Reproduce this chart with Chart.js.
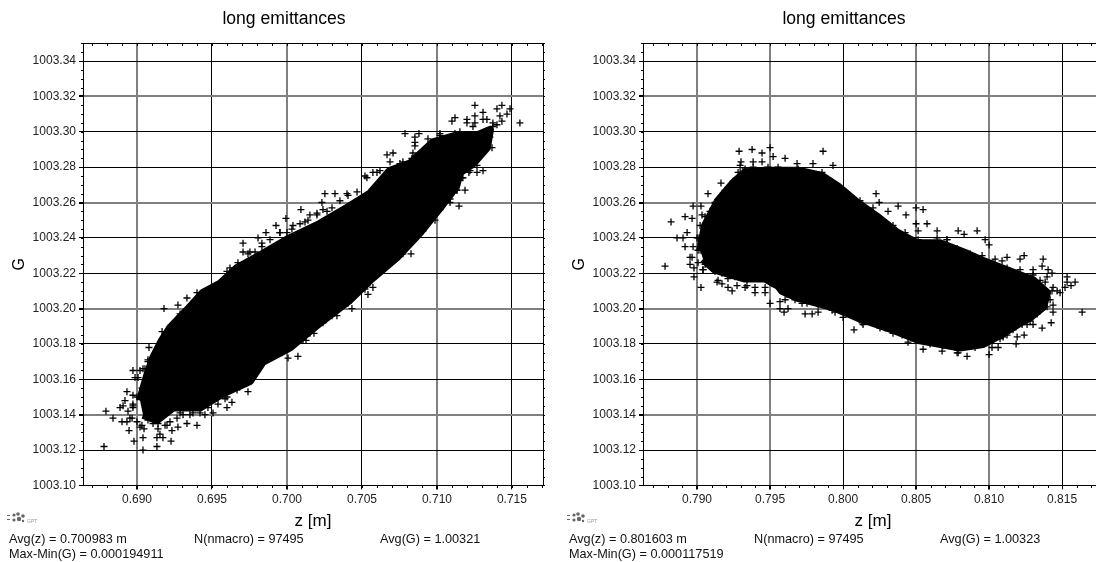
<!DOCTYPE html>
<html><head><meta charset="utf-8">
<script src="https://cdn.jsdelivr.net/npm/chart.js@4"></script>
<style>
html,body{margin:0;padding:0;background:#fff;overflow:hidden;width:1096px;height:562px}
canvas{position:absolute;top:0}
.t{position:absolute;font:12.7px "Liberation Sans",Arial,sans-serif;color:#111;white-space:nowrap;line-height:15px}
.logo{position:absolute;top:511px;width:40px;height:16px}
.logo span{position:absolute;left:21px;top:7px;font:5px "Liberation Sans",Arial,sans-serif;color:#999}
</style></head><body>
<canvas id="c1" width="568" height="562" style="left:0"></canvas>
<canvas id="c2" width="568" height="562" style="left:560px"></canvas>
<script>
const chartTitle='long emittances';
const xAxisTitle='z [m]';
const yAxisTitle='G';
const yTicks=[1003.10,1003.12,1003.14,1003.16,1003.18,1003.20,1003.22,1003.24,1003.26,1003.28,1003.30,1003.32,1003.34];
const leftXTicks=[0.690,0.695,0.700,0.705,0.710,0.715];
const rightXTicks=[0.790,0.795,0.800,0.805,0.810,0.815];

// dense core of each cloud: its outline
const leftCoreZ=[.69020,.69067,.69107,.69167,.69220,.69333,.69440,.69553,.69667,.69840,.70000,.70220,.70400,.70553,.70687,.70820,.70973,.71133,.71267,.71353,.71333,.71240,.71153,.71127,.71020,.70887,.70733,.70553,.70420,.70220,.70020,.69840,.69753,.69573,.69420,.69240,.69133,.69040];
const leftCoreG=[1003.148,1003.162,1003.172,1003.182,1003.189,1003.199,1003.209,1003.214,1003.223,1003.231,1003.239,1003.248,1003.257,1003.265,1003.278,1003.282,1003.294,1003.298,1003.298,1003.301,1003.291,1003.282,1003.277,1003.269,1003.257,1003.243,1003.229,1003.216,1003.205,1003.192,1003.178,1003.170,1003.159,1003.152,1003.144,1003.144,1003.137,1003.140];
const rightCoreZ=[.79021,.79055,.79144,.79247,.79329,.79466,.79692,.79856,.79966,.80096,.80233,.80370,.80507,.80664,.80849,.80959,.81144,.81301,.81397,.81370,.81281,.81212,.81096,.80959,.80801,.80527,.80342,.80096,.79925,.79692,.79582,.79555,.79466,.79329,.79240,.79123,.79041];
const rightCoreG=[1003.233,1003.247,1003.261,1003.271,1003.277,1003.278,1003.278,1003.275,1003.269,1003.260,1003.252,1003.243,1003.237,1003.237,1003.231,1003.227,1003.221,1003.216,1003.209,1003.201,1003.195,1003.192,1003.186,1003.180,1003.178,1003.182,1003.188,1003.195,1003.201,1003.206,1003.210,1003.213,1003.217,1003.217,1003.219,1003.222,1003.228];

// individual macro-particles read around the fringe
const leftZ=[.68793,.68840,.68780,.69040,.69133,.69227,.68980,.69040,.69133,.69173,.68947,.68900,.68933,.68920,.68887,.68973,.68973,.69047,.69033,.69153,.69273,.69333,.69400,.69233,.69200,.69507,.69453,.69600,.69633,.69600,.69740,.69080,.69167,.69273,.69180,.69333,.69400,.69073,.69040,.68987,.68973,.68967,.69087,.68933,.69140,.69353,.69287,
.69707,.69707,.69807,.69860,.69927,.69993,.70093,.70153,.70253,.70320,.70400,.70233,.70073,.70007,.70127,.70180,.70333,.70433,.70540,.70573,.70520,.69600,.69753,.69833,.69953,.70040,.70120,.70200,.70267,
.71553,.71253,.71433,.71487,.71400,.71467,.71433,.71100,.71120,.71253,.71307,.71200,.71373,.70787,.70880,.70853,.70853,.70853,.70707,.70667,.70940,.71187,.71147,.71307,.71267,.71213,.70827,.70833,.71087,.70987,.70573,.70520,.70620,.70773,.70840,.71020,.71153,.71353,.71420,.71333,.71240,.71267,.71367,.71253,.71173,.71133];
const leftG=[1003.142,1003.138,1003.122,1003.120,1003.122,1003.125,1003.125,1003.127,1003.127,1003.127,1003.131,1003.136,1003.153,1003.148,1003.144,1003.165,1003.151,1003.132,1003.134,1003.129,1003.133,1003.135,1003.134,1003.131,1003.134,1003.141,1003.140,1003.144,1003.147,1003.150,1003.153,1003.178,1003.187,1003.202,1003.200,1003.206,1003.209,1003.171,1003.166,1003.161,1003.145,1003.138,1003.138,1003.136,1003.135,1003.140,1003.141,
1003.237,1003.232,1003.240,1003.243,1003.247,1003.251,1003.256,1003.253,1003.265,1003.265,1003.265,1003.260,1003.173,1003.172,1003.182,1003.186,1003.196,1003.200,1003.208,1003.212,1003.211,1003.221,1003.232,1003.237,1003.243,1003.247,1003.249,1003.254,1003.255,
1003.305,1003.315,1003.315,1003.313,1003.313,1003.310,1003.306,1003.306,1003.308,1003.309,1003.311,1003.307,1003.305,1003.299,1003.299,1003.297,1003.294,1003.292,1003.288,1003.287,1003.296,1003.267,1003.258,1003.278,1003.277,1003.277,1003.231,1003.238,1003.260,1003.250,1003.277,1003.275,1003.278,1003.283,1003.288,1003.299,1003.300,1003.297,1003.309,1003.307,1003.303,1003.297,1003.291,1003.284,1003.274,1003.267];
const leftDenseZ=[.68907,.68940,.68973,.68953,.69000,.69020,.69073,.69107,.69140,.69187,.69220,.69267,.69307,.69373,.69420,.69473,.69540,.69587,.69667,.69707,.69007,.69020,.69053,.69033,.69000,.68973,.69073,.69133,.69187,.69220,.69253,.69287,.69353,.69400,.69453,
.69620,.69673,.69740,.69787,.69833,.69887,.69953,.70000,.70033,.70087,.70140,.70200,.70240,.70300,.70353,.70407,.70467,.69887,.69967,.70040,.70107,.70153,.70240,.70300,.70407,.70467,.70533,
.70533,.70600,.70687,.70753,.70833,.70887,.70940,.71020,.71120,.71200,.71253,.71307,.71373,.71400,.71340,.71307,.71253,.71267,.71220,.71167,.71133,.71087,.71020,.70967,.70907,.70840,.70773];
const leftDenseG=[1003.145,1003.142,1003.144,1003.138,1003.136,1003.133,1003.137,1003.135,1003.132,1003.134,1003.136,1003.138,1003.140,1003.141,1003.141,1003.144,1003.146,1003.149,1003.154,1003.157,1003.161,1003.165,1003.166,1003.155,1003.150,1003.146,1003.170,1003.175,1003.184,1003.189,1003.192,1003.197,1003.201,1003.205,1003.208,
1003.223,1003.226,1003.231,1003.232,1003.235,1003.239,1003.243,1003.243,1003.245,1003.248,1003.250,1003.253,1003.256,1003.257,1003.261,1003.264,1003.266,1003.174,1003.175,1003.179,1003.182,1003.186,1003.192,1003.196,1003.203,1003.209,1003.213,
1003.274,1003.277,1003.283,1003.282,1003.285,1003.288,1003.292,1003.298,1003.299,1003.305,1003.305,1003.307,1003.303,1003.304,1003.296,1003.291,1003.288,1003.281,1003.278,1003.274,1003.267,1003.262,1003.256,1003.251,1003.244,1003.238,1003.231];
const rightZ=[.79288,.79377,.79445,.79500,.79863,.79301,.79384,.79445,.79521,.79603,.79685,.79794,.79931,.79295,.79247,.79164,.79075,.79137,.78973,.79027,.78822,.78918,.78966,.79034,.78863,.78904,.78932,.78918,.79007,.78781,.78952,.78952,.78979,.79041,.78979,.79027,.79137,.79212,.79240,.79274,.79329,.79397,.79466,.79500,.79568,.79603,.79568,.79623,.79596,.79740,.79788,.79829,.79719,.79925,.79171,.79075,.79007,
.80226,.80247,.80377,.80500,.80548,.80308,.80431,.80500,.80575,.80644,.80788,.80514,.80000,.80075,.80137,.80342,.80445,.80548,.80678,.80781,.80596,.80253,.80712,
.80829,.80918,.81000,.80973,.81041,.81089,.81123,.81212,.81240,.81370,.81363,.81404,.81301,.81431,.81534,.81589,.81561,.81520,.81486,.81534,.81637,.81425,.81438,.81438,.81363,.81301,.81260,.81240,.81185,.81192,.81062,.81020,.81000,.80849,.80788,.80904,.81431,.81397,.81349,.81123,.81075];
const rightG=[1003.289,1003.290,1003.288,1003.291,1003.289,1003.283,1003.283,1003.283,1003.286,1003.285,1003.282,1003.282,1003.281,1003.277,1003.272,1003.271,1003.265,1003.260,1003.258,1003.258,1003.249,1003.252,1003.251,1003.253,1003.240,1003.240,1003.243,1003.235,1003.240,1003.224,1003.229,1003.225,1003.223,1003.222,1003.218,1003.212,1003.215,1003.212,1003.210,1003.213,1003.212,1003.209,1003.209,1003.203,1003.204,1003.205,1003.200,1003.200,1003.198,1003.197,1003.197,1003.198,1003.203,1003.199,1003.214,1003.229,1003.233,
1003.265,1003.260,1003.258,1003.257,1003.256,1003.255,1003.253,1003.248,1003.248,1003.244,1003.244,1003.244,1003.195,1003.188,1003.191,1003.186,1003.181,1003.177,1003.176,1003.175,1003.180,1003.189,1003.239,
1003.242,1003.244,1003.236,1003.239,1003.228,1003.227,1003.229,1003.228,1003.230,1003.228,1003.224,1003.222,1003.222,1003.220,1003.218,1003.215,1003.213,1003.212,1003.209,1003.215,1003.198,1003.192,1003.198,1003.202,1003.189,1003.191,1003.191,1003.185,1003.180,1003.184,1003.178,1003.178,1003.174,1003.173,1003.175,1003.178,1003.210,1003.218,1003.216,1003.185,1003.183];
const rightDenseZ=[.79295,.79329,.79384,.79431,.79486,.79555,.79623,.79692,.79760,.79856,.79897,.79281,.79240,.79192,.79158,.79123,.79089,.79055,.79021,.79000,.78973,.79021,.78966,.79007,.79055,.79041,.79123,.79171,.79144,.79212,.79260,.79315,.79342,.79397,.79466,.79514,.79582,.79616,.79671,.79753,.79829,.79897,
.80116,.80205,.80253,.80342,.80425,.80514,.80644,.80712,.80781,.79945,.80048,.80130,.80205,.80288,.80404,.80493,.80596,.80685,.80767,
.80870,.80952,.81027,.81123,.81212,.81301,.81384,.81438,.81466,.81418,.81397,.81329,.81281,.81226,.81164,.81096,.81027,.80959,.80870,.80781];
const rightDenseG=[1003.281,1003.279,1003.280,1003.278,1003.280,1003.280,1003.278,1003.279,1003.277,1003.277,1003.273,1003.277,1003.270,1003.267,1003.262,1003.260,1003.255,1003.252,1003.247,1003.240,1003.235,1003.233,1003.229,1003.226,1003.225,1003.222,1003.221,1003.220,1003.216,1003.217,1003.218,1003.217,1003.213,1003.212,1003.212,1003.214,1003.210,1003.208,1003.205,1003.203,1003.202,1003.201,
1003.261,1003.257,1003.251,1003.247,1003.243,1003.239,1003.240,1003.239,1003.234,1003.198,1003.197,1003.192,1003.192,1003.189,1003.185,1003.184,1003.181,1003.179,1003.178,
1003.231,1003.230,1003.226,1003.223,1003.222,1003.219,1003.215,1003.212,1003.210,1003.205,1003.201,1003.197,1003.193,1003.191,1003.188,1003.184,1003.182,1003.180,1003.179,1003.178];

const leftStats=['Avg(z) = 0.700983 m','N(nmacro) = 97495','Avg(G) = 1.00321','Max-Min(G) = 0.000194911'];
const rightStats=['Avg(z) = 0.801603 m','N(nmacro) = 97495','Avg(G) = 1.00323','Max-Min(G) = 0.000117519'];

const FONT='"Liberation Sans",Arial,sans-serif';
const zip=(a,b)=>a.map((v,i)=>({x:v,y:b[i]}));

const framePlugin={id:'frame',afterDraw(ch){
  const {left,right,top,bottom}=ch.chartArea,c=ch.ctx,X=ch.scales.x,Y=ch.scales.y;
  const L=Math.floor(left),R=Math.floor(right),T=Math.floor(top),B=Math.floor(bottom);
  c.save();c.strokeStyle='#000';c.lineWidth=1;
  c.strokeRect(L+.5,T+.5,R-L,B-T);
  c.beginPath();
  for(let i=Math.ceil(X.min/0.001);i*0.001<=X.max;i++){
    const p=Math.round(X.getPixelForValue(i*0.001))+.5;
    c.moveTo(p,T);c.lineTo(p,T+3);c.moveTo(p,B);c.lineTo(p,B+3);
  }
  for(let i=0;i<=50;i++){
    const p=Math.round(Y.getPixelForValue(Y.min+i*0.005))+.5;
    c.moveTo(L-2,p);c.lineTo(L,p);c.moveTo(R,p);c.lineTo(R+2,p);
  }
  c.stroke();c.restore();
}};

function makeChart(id,xMin,xMax,xTicks,grayX,coreZ,coreG,ptZ,ptG,denseZ,denseG){
  const grayY=i=>i%3===2;
  const cross={showLine:false,pointStyle:'cross',pointRadius:3.5,pointBorderColor:'#000',pointBackgroundColor:'#000',pointBorderWidth:1.3};
  return new Chart(document.getElementById(id),{
    type:'line',
    plugins:[framePlugin],
    data:{datasets:[
      {data:zip(coreZ,coreG),fill:'shape',backgroundColor:'#000',borderColor:'#000',borderWidth:8,borderJoinStyle:'round',pointRadius:0,tension:0},
      {data:zip(ptZ,ptG),...cross},
      {data:zip(denseZ,denseG),...cross}
    ]},
    options:{
      responsive:false,animation:false,devicePixelRatio:1,
      events:[],
      plugins:{
        legend:{display:false},tooltip:{enabled:false},
        title:{display:true,text:chartTitle,color:'#000',font:{family:FONT,size:17.6,weight:'normal'},padding:{top:9,bottom:13.28}}
      },
      scales:{
        x:{type:'linear',min:xMin,max:xMax,
          afterBuildTicks:s=>{s.ticks=xTicks.map(v=>({value:v}));},
          afterFit:s=>{s.height=76.6;},
          ticks:{color:'#222',font:{family:FONT,size:12},padding:3,maxRotation:0,autoSkip:false,callback:v=>v.toFixed(3)},
          grid:{tickLength:4,tickColor:'#000',
            color:c=>grayX(c.index)?'#808080':'#000',lineWidth:c=>grayX(c.index)?2:1},
          border:{display:false},
          title:{display:true,text:xAxisTitle,color:'#000',font:{family:FONT,size:17},padding:{top:0,bottom:30.8}}
        },
        y:{type:'linear',min:yTicks[0],max:1003.35,
          afterBuildTicks:s=>{s.ticks=yTicks.map(v=>({value:v}));},
          afterFit:s=>{s.width=83;},
          ticks:{color:'#222',font:{family:FONT,size:12},padding:3,autoSkip:false,callback:v=>v.toFixed(2)},
          grid:{tickLength:4,tickColor:'#000',
            color:c=>grayY(c.index)?'#808080':'#000',lineWidth:c=>grayY(c.index)?2:1},
          border:{display:false},
          title:{display:true,text:yAxisTitle,color:'#000',font:{family:FONT,size:16},padding:{top:10,bottom:0}}
        },
        rightGap:{type:'linear',position:'right',display:true,
          afterFit:s=>{s.width=25;},
          ticks:{display:false},grid:{display:false,drawOnChartArea:false,drawTicks:false},border:{display:false}}
      }
    }
  });
}
makeChart('c1',0.6864,0.71707,leftXTicks,i=>i%2===0,leftCoreZ,leftCoreG,leftZ,leftG,leftDenseZ,leftDenseG);
makeChart('c2',0.7863,0.8178,rightXTicks,i=>i!==2&&i!==5,rightCoreZ,rightCoreG,rightZ,rightG,rightDenseZ,rightDenseG);

function footer(off,s){
  const add=(x,y,txt)=>{const d=document.createElement('div');d.className='t';d.style.left=(x+off)+'px';d.style.top=y+'px';d.textContent=txt;document.body.appendChild(d);};
  add(9,532,s[0]);add(194,532,s[1]);add(380,532,s[2]);add(9,547,s[3]);
  const l=document.createElement('div');l.className='logo';l.style.left=(off+6)+'px';
  l.innerHTML='<svg width="22" height="16" style="position:absolute;left:0;top:0" fill="#666"><rect x="1" y="4" width="3" height="1"/><rect x="1" y="8" width="3" height="1"/><circle cx="8" cy="4" r="1.6"/><circle cx="8" cy="9" r="1.6"/><circle cx="12" cy="3" r="1.8"/><circle cx="13" cy="8" r="2.2"/><circle cx="17" cy="5" r="1.8"/><circle cx="17" cy="10" r="1.2"/></svg><span>GPT</span>';
  document.body.appendChild(l);
}
footer(0,leftStats);footer(560,rightStats);
</script>
</body></html>
